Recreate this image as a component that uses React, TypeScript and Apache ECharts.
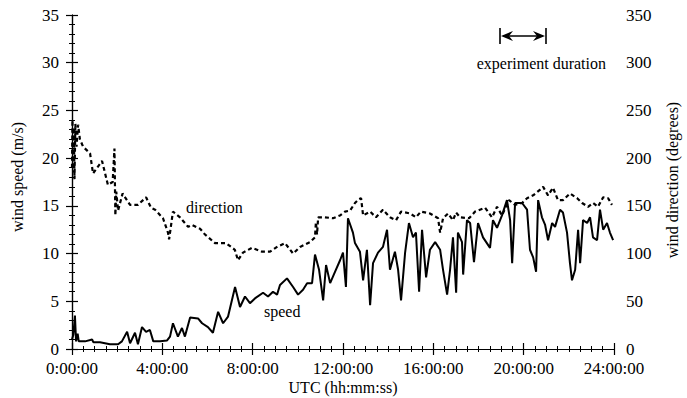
import React, { useEffect, useRef } from "react";
import * as echarts from "echarts";

// time in decimal hours (UTC)
const speedTime = [0.00,0.06,0.13,0.18,0.25,0.30,0.58,0.89,0.95,1.24,1.68,2.04,2.21,2.44,2.57,2.79,2.92,3.10,3.28,3.45,3.60,3.90,4.21,4.34,4.47,4.69,4.87,5.00,5.23,5.58,5.76,6.02,6.24,6.47,6.69,6.91,7.22,7.44,7.66,7.88,8.10,8.46,8.68,8.90,9.08,9.21,9.52,9.79,10.01,10.23,10.41,10.63,10.76,10.94,11.12,11.25,11.43,11.65,11.87,12.00,12.13,12.22,12.44,12.53,12.75,12.89,13.06,13.20,13.33,13.55,13.77,13.95,14.08,14.30,14.44,14.57,14.75,14.92,15.10,15.23,15.37,15.50,15.68,15.85,16.08,16.30,16.43,16.61,16.74,16.87,17.01,17.09,17.27,17.32,17.49,17.63,17.80,17.98,18.20,18.51,18.64,18.82,19.04,19.26,19.40,19.49,19.62,19.93,20.15,20.28,20.42,20.55,20.64,20.81,20.95,21.08,21.26,21.39,21.61,21.74,21.92,22.05,22.14,22.28,22.41,22.50,22.63,22.81,22.94,23.07,23.25,23.38,23.52,23.69,23.82,23.96];
const speedValue = [1.0,1.5,3.5,0.8,1.6,0.8,0.8,1.0,0.7,0.7,0.5,0.5,0.8,1.8,0.6,1.7,0.5,2.3,1.8,2.0,0.8,0.8,0.9,1.3,2.7,1.3,2.2,1.3,3.3,3.2,2.7,2.3,1.7,3.9,2.7,3.4,6.5,4.4,5.5,4.8,5.3,5.9,5.5,6.0,5.7,6.7,7.4,6.5,5.7,6.2,6.9,6.9,9.9,8.3,5.1,8.8,6.9,8.1,9.3,10.1,6.5,13.7,12.2,11.1,10.2,7.2,10.4,4.6,9.0,10.1,10.7,12.5,8.3,10.2,8.3,5.1,10.1,13.2,11.7,12.2,6.0,12.5,7.5,10.4,11.2,10.4,8.3,5.7,8.3,11.7,5.9,12.2,11.2,7.8,13.5,13.2,9.1,13.2,11.7,10.6,13.5,12.7,14.0,15.6,13.5,9.0,15.3,15.3,14.6,10.4,9.6,8.1,15.6,13.8,13.0,11.4,13.2,12.8,14.6,14.3,12.2,9.0,7.2,8.3,12.5,9.0,13.5,13.2,13.8,11.7,11.4,14.6,12.5,13.2,12.2,11.4];

const dirTime = [0.00,0.02,0.05,0.08,0.11,0.15,0.20,0.27,0.35,0.49,0.80,0.93,1.33,1.59,1.80,1.88,1.92,1.96,2.04,2.24,2.57,2.92,3.28,3.50,3.68,4.03,4.25,4.30,4.47,4.78,5.14,5.31,5.67,5.89,6.33,6.82,7.21,7.35,7.57,7.97,8.41,8.77,9.08,9.43,9.79,10.10,10.54,10.76,10.80,10.85,10.90,11.20,11.56,11.87,12.09,12.31,12.53,12.70,12.80,12.89,13.20,13.46,13.77,14.08,14.35,14.57,14.97,15.23,15.45,15.85,16.21,16.30,16.43,16.65,16.87,17.01,17.18,17.58,17.85,18.29,18.60,18.82,19.04,19.35,19.62,19.93,20.15,20.42,20.73,20.86,21.08,21.30,21.52,21.74,22.05,22.37,22.59,22.85,23.07,23.29,23.52,23.74,23.91];
const dirValue = [190,240,185,232,178,236,212,235,220,212,205,184,197,172,175,210,140,165,145,163,151,151,159,148,146,137,122,115,144,138,128,130,126,120,111,111,104,93,101,106,102,102,107,111,100,107,112,117,133,120,138,138,137,140,144,145,153,157,158,140,144,138,146,138,135,144,142,138,144,142,137,122,137,142,135,143,138,137,144,148,138,149,140,156,151,153,158,161,167,170,161,169,156,156,163,158,153,149,153,149,159,158,151];

const xTicks = [0, 4, 8, 12, 16, 20, 24];
const speedTicks = [0, 5, 10, 15, 20, 25, 30, 35];
const dirTicks = [0, 50, 100, 150, 200, 250, 300, 350];

const SERIF = "Liberation Serif";

export default function App() {
  const ref = useRef<HTMLDivElement>(null);
  useEffect(() => {
    if (!ref.current) return;
    const chart = echarts.init(ref.current, null, { renderer: "svg" });
    const speedData = speedTime.map((t, i) => [t, speedValue[i]]);
    const dirData = dirTime.map((t, i) => [t, dirValue[i]]);
    const tickLabel = { color: "#000", fontFamily: SERIF, fontSize: 17, lineHeight: 14 };
    const axisLine = { show: true, lineStyle: { color: "#000", width: 1.2 } };
    const axisTick = { show: true, inside: true, length: 6, lineStyle: { color: "#000", width: 1.2 } };
    const minorTick = { show: true, length: 3, lineStyle: { color: "#000", width: 1 } };
    chart.setOption({
      animation: false,
      backgroundColor: "#fff",
      grid: { left: 72, right: 73, top: 15, bottom: 49, containLabel: false },
      xAxis: [
        {
          type: "value", min: xTicks[0], max: xTicks[xTicks.length - 1], interval: 4,
          position: "bottom",
          axisLine, axisTick, minorTick: { ...minorTick, splitNumber: 8 },
          splitLine: { show: false },
          axisLabel: { ...tickLabel, margin: 12, formatter: (v: number) => `${v}:00:00` },
        },
        {
          type: "value", min: xTicks[0], max: xTicks[xTicks.length - 1], interval: 4,
          position: "top",
          axisLine, axisTick, minorTick: { ...minorTick, splitNumber: 8 },
          splitLine: { show: false },
          axisLabel: { show: false },
        },
      ],
      yAxis: [
        {
          type: "value", min: speedTicks[0], max: speedTicks[speedTicks.length - 1], interval: 5,
          position: "left",
          axisLine, axisTick, minorTick: { ...minorTick, splitNumber: 5 },
          splitLine: { show: false },
          axisLabel: { ...tickLabel, margin: 13 },
        },
        {
          type: "value", min: dirTicks[0], max: dirTicks[dirTicks.length - 1], interval: 50,
          position: "right",
          axisLine, axisTick, minorTick: { ...minorTick, splitNumber: 5 },
          splitLine: { show: false },
          axisLabel: { ...tickLabel, margin: 12 },
        },
      ],
      series: [
        {
          name: "direction", type: "line", xAxisIndex: 0, yAxisIndex: 1,
          data: dirData, showSymbol: false, symbol: "none",
          lineStyle: { color: "#000", width: 2.2, type: [4, 3] },
        },
        {
          name: "speed", type: "line", xAxisIndex: 0, yAxisIndex: 0,
          data: speedData, showSymbol: false, symbol: "none",
          lineStyle: { color: "#000", width: 2 },
        },
      ],
      graphic: [
        { type: "text", x: 17, y: 177, rotation: Math.PI / 2,
          style: { text: "wind speed (m/s)", fill: "#000", font: `16px "${SERIF}"`, align: "center", verticalAlign: "middle" } },
        { type: "text", x: 672, y: 180, rotation: Math.PI / 2,
          style: { text: "wind direction (degrees)", fill: "#000", font: `16px "${SERIF}"`, align: "center", verticalAlign: "middle" } },
        { type: "text", x: 343, y: 387,
          style: { text: "UTC (hh:mm:ss)", fill: "#000", font: `16px "${SERIF}"`, align: "center", verticalAlign: "middle" } },
        { type: "text", x: 186, y: 207,
          style: { text: "direction", fill: "#000", font: `16px "${SERIF}"`, align: "left", verticalAlign: "middle" } },
        { type: "text", x: 264, y: 311,
          style: { text: "speed", fill: "#000", font: `16px "${SERIF}"`, align: "left", verticalAlign: "middle" } },
        { type: "text", x: 606, y: 63,
          style: { text: "experiment duration", fill: "#000", font: `16px "${SERIF}"`, align: "right", verticalAlign: "middle" } },
        { type: "line", shape: { x1: 500, y1: 28, x2: 500, y2: 44 }, style: { stroke: "#000", lineWidth: 1.6 } },
        { type: "line", shape: { x1: 546, y1: 28, x2: 546, y2: 44 }, style: { stroke: "#000", lineWidth: 1.6 } },
        { type: "line", shape: { x1: 503, y1: 36, x2: 543, y2: 36 }, style: { stroke: "#000", lineWidth: 1.6 } },
        { type: "polygon", shape: { points: [[501, 36], [513, 31], [509, 36], [513, 41]] }, style: { fill: "#000" } },
        { type: "polygon", shape: { points: [[545, 36], [533, 31], [537, 36], [533, 41]] }, style: { fill: "#000" } },
      ],
    });
    return () => chart.dispose();
  }, []);
  return (
    <div
      ref={ref}
      style={{ position: "fixed", left: 0, top: 0, width: 687, height: 398, background: "#fff" }}
    />
  );
}
